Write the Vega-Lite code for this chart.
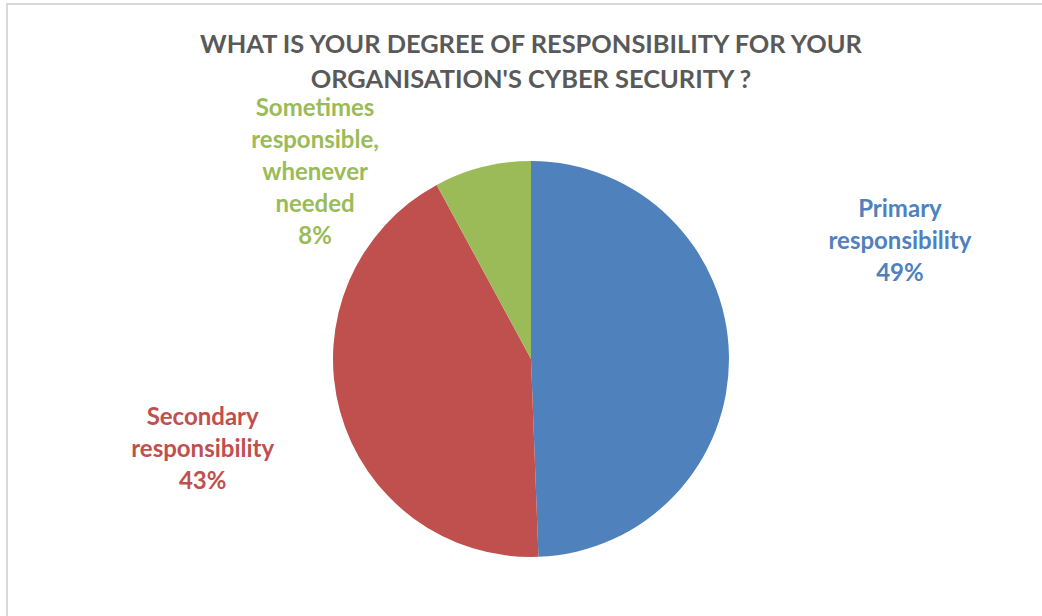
{
  "$schema": "https://vega.github.io/schema/vega-lite/v6.json",
  "autosize": {"type": "none"},
  "padding": {"left": 7, "top": 4, "right": -13, "bottom": -98},
  "width": 1048,
  "height": 710,
  "background": "white",
  "view": {"stroke": "#d9d9d9", "strokeWidth": 2},
  "config": {"view": {"stroke": "#d9d9d9", "strokeWidth": 2}},
  "datasets": {
    "shares": [
      {"category": "Primary responsibility", "value": 49.4, "idx": 1, "label": "Primary\nresponsibility\n49%"},
      {"category": "Secondary responsibility", "value": 42.7, "idx": 2, "label": "Secondary\nresponsibility\n43%"},
      {"category": "Sometimes responsible, whenever needed", "value": 7.9, "idx": 3, "label": "Sometimes\nresponsible,\nwhenever\nneeded\n8%"}
    ],
    "heading": [
      {"title": "WHAT IS YOUR DEGREE OF RESPONSIBILITY FOR YOUR\nORGANISATION'S CYBER SECURITY ?"}
    ]
  },
  "layer": [
    {
      "data": {"name": "shares"},
      "mark": {"type": "arc", "outerRadius": 198},
      "encoding": {
        "theta": {"field": "value", "type": "quantitative", "stack": true},
        "order": {"field": "idx", "type": "quantitative"},
        "color": {
          "field": "category",
          "type": "nominal",
          "scale": {
            "domain": ["Primary responsibility", "Secondary responsibility", "Sometimes responsible, whenever needed"],
            "range": ["#4F81BD", "#C0504D", "#9BBB59"]
          },
          "legend": null
        }
      }
    },
    {
      "data": {"name": "shares"},
      "mark": {"type": "text", "radius": 369, "dx": 0, "dy": -142, "font": "Lato", "fontSize": 24, "fontWeight": "bold", "color": "#4F81BD", "lineBreak": "\n", "lineHeight": 32, "align": "center", "baseline": "middle"},
      "encoding": {
        "theta": {"field": "value", "type": "quantitative", "stack": true},
        "order": {"field": "idx", "type": "quantitative"},
        "text": {"condition": {"test": "datum.idx === 1", "field": "label"}, "value": ""}
      }
    },
    {
      "data": {"name": "shares"},
      "mark": {"type": "text", "radius": 330, "dx": -10, "dy": -28, "font": "Lato", "fontSize": 24, "fontWeight": "bold", "color": "#C0504D", "lineBreak": "\n", "lineHeight": 32, "align": "center", "baseline": "middle"},
      "encoding": {
        "theta": {"field": "value", "type": "quantitative", "stack": true},
        "order": {"field": "idx", "type": "quantitative"},
        "text": {"condition": {"test": "datum.idx === 2", "field": "label"}, "value": ""}
      }
    },
    {
      "data": {"name": "shares"},
      "mark": {"type": "text", "radius": 240, "dx": -157, "dy": -17, "font": "Lato", "fontSize": 24, "fontWeight": "bold", "color": "#9BBB59", "lineBreak": "\n", "lineHeight": 32, "align": "center", "baseline": "middle"},
      "encoding": {
        "theta": {"field": "value", "type": "quantitative", "stack": true},
        "order": {"field": "idx", "type": "quantitative"},
        "text": {"condition": {"test": "datum.idx === 3", "field": "label"}, "value": ""}
      }
    },
    {
      "data": {"name": "heading"},
      "mark": {"type": "text", "theta": 0, "radius": 314, "font": "Lato", "fontSize": 25.4, "fontWeight": "bold", "color": "#595959", "lineBreak": "\n", "lineHeight": 35, "align": "center", "baseline": "middle"},
      "encoding": {"text": {"field": "title", "type": "nominal"}}
    }
  ]
}
